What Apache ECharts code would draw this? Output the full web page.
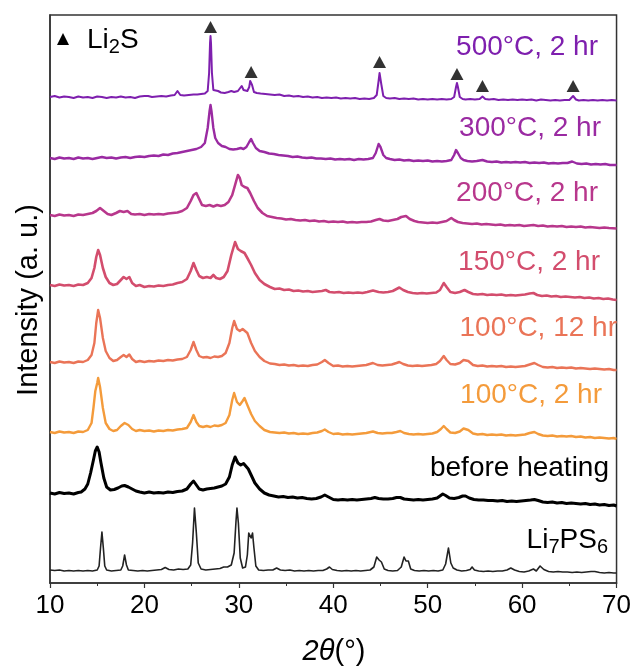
<!DOCTYPE html>
<html>
<head>
<meta charset="utf-8">
<script src="https://cdn.jsdelivr.net/npm/echarts@6/dist/echarts.min.js"></script>
<style>
  html, body { margin: 0; padding: 0; background: #fff; }
  #chart { width: 634px; height: 668px; }
</style>
</head>
<body>
<div id="chart"></div>
<script>
// 2θ (deg) vs stacked intensity (arbitrary units, offset per pattern)
const xTicks = [10, 20, 30, 40, 50, 60, 70];

const pattern500 = [
  [10,486],[10.5,487],[11,485.5],[11.5,486.5],[12,486],[12.5,485],[13,486.5],[13.5,485.5],[14,486],[14.5,485],
  [15,486.5],[15.5,486],[16,485],[16.5,486],[17,485.5],[17.5,486.5],[18,485.5],[18.5,486],[19,485],[19.5,486.5],
  [20,487],[20.2,489],[20.4,487],[20.8,486],[21.3,486.5],[21.8,487],[22.3,486.5],[22.8,487.5],[23.2,488],[23.5,492],
  [23.8,488],[24.2,487.5],[24.7,488],[25.2,488.5],[25.4,490],[25.6,488.5],[26,489],[26.4,489.5],[26.7,492],[26.85,510],
  [26.95,540],[27,547],[27.05,540],[27.15,510],[27.3,493],[27.5,491],[27.8,492],[28.1,490.5],[28.5,490],[28.9,491],
  [29.2,492],[29.5,491],[29.9,492],[30.1,494],[30.3,497],[30.5,493],[30.7,491],[30.9,492],[31.1,496],[31.2,502],
  [31.3,503],[31.4,498],[31.6,491],[31.9,490],[32.3,489.5],[32.8,489],[33.3,488.5],[33.8,488],[34.3,488.5],[34.8,487],
  [35.3,487.5],[35.8,486.5],[36.3,487],[36.8,486],[37.3,486.5],[37.8,485.5],[38.3,486],[38.8,485],[39.3,485.5],[39.8,485],
  [40.3,485.5],[40.8,484.5],[41.3,485],[41.8,484.5],[42.3,485],[42.8,484],[43.3,484.5],[43.8,484],[44.3,485],[44.6,488],
  [44.8,502],[44.9,510],[45,508],[45.1,498],[45.3,487],[45.6,485],[46,484.5],[46.5,485],[47,484],[47.5,484.5],
  [48,484],[48.5,484.5],[49,483.5],[49.5,484],[50,483.5],[50.5,484],[51,483.5],[51.5,484],[52,483.5],[52.5,484],
  [52.8,486],[53,496],[53.1,500],[53.2,496],[53.4,486],[53.7,484],[54,483.5],[54.5,484],[55,483.5],[55.5,484],
  [55.8,486.5],[56.1,484],[56.5,483.5],[57,484],[57.5,483],[58,483.5],[58.5,483],[59,483.5],[59.5,483],[60,483.5],
  [60.5,483],[61,483.5],[61.5,482.5],[62,483.5],[62.5,483],[63,482.5],[63.5,483],[64,482.5],[64.5,483],[65,483],
  [65.4,487],[65.7,483.5],[66,482.5],[66.5,483],[67,482.5],[67.5,483],[68,482.5],[68.5,483],[69,482.5],[69.5,483],[70,482.5]
];

const pattern300 = [
  [10,425],[10.5,424],[11,425.5],[11.5,424.5],[12,425],[12.5,424],[13,425.5],[13.5,424.5],[14,425],[14.5,424],
  [15,425],[15.5,426],[16,425],[16.5,425.5],[17,424.5],[17.5,425.5],[18,426],[18.5,425],[19,426],[19.5,426.5],
  [20,426],[20.5,427],[21,427.5],[21.5,427],[22,428.5],[22.5,428],[23,429.5],[23.5,430],[24,431],[24.5,432],
  [25,433],[25.5,434],[26,436],[26.4,440],[26.7,455],[26.9,472],[27,478],[27.1,472],[27.3,455],[27.5,445],
  [27.8,440],[28.2,437],[28.6,436],[29,434],[29.4,433.5],[29.8,434],[30.2,435],[30.5,434],[30.8,436],[31.1,441],
  [31.3,444],[31.5,440],[31.8,435],[32.2,432],[32.7,431],[33.2,429.5],[33.7,429],[34.2,428],[34.7,427.5],[35.2,427],
  [35.7,426],[36.2,426.5],[36.7,425.5],[37.2,425],[37.7,425.5],[38.2,424.5],[38.7,424.5],[39.2,424],[39.7,424.5],[40.2,423.5],
  [40.7,424],[41.2,423.5],[41.7,424],[42.2,423],[42.7,424],[43.2,423.5],[43.7,424],[44.2,425],[44.5,430],[44.8,439],
  [45,436],[45.3,428],[45.6,425],[46,424],[46.5,423],[47,423.5],[47.5,422.5],[48,423],[48.5,422],[49,422.5],
  [49.5,422],[50,422.5],[50.5,421.5],[51,422],[51.5,421.5],[52,422],[52.5,423],[52.8,428],[53,433],[53.2,430],
  [53.5,425],[53.8,423],[54.2,422],[54.7,421.5],[55.2,422],[55.8,423],[56.3,421.5],[56.8,421],[57.3,421.5],[57.8,420.5],
  [58.3,421],[58.8,420.5],[59.3,421],[59.8,420.5],[60.3,421],[60.8,420],[61.3,420.5],[61.8,420],[62.3,420.5],[62.8,419.5],
  [63.3,420],[63.8,419.5],[64.3,420],[64.8,420],[65.3,421.5],[65.8,419.5],[66.3,419],[66.8,419.5],[67.3,418.5],[67.8,419],
  [68.3,418.5],[68.8,419],[69.3,418],[70,418]
];

const pattern200 = [
  [10,368],[10.5,367],[11,368.5],[11.5,367.5],[12,368],[12.5,367],[13,368.5],[13.5,368],[14,369],[14.5,370],
  [14.9,372],[15.3,375],[15.7,372],[16.1,369],[16.5,368],[17,370],[17.4,372],[17.8,371],[18.2,372],[18.6,369],
  [19,368.5],[19.5,369],[20,368],[20.5,369],[21,368.5],[21.5,369],[22,368.5],[22.5,369.5],[23,370],[23.5,370.5],
  [24,372],[24.5,375],[24.9,382],[25.2,388],[25.5,390],[25.8,384],[26.1,378],[26.5,377],[26.9,378],[27.3,376.5],
  [27.7,378],[28.1,377],[28.5,378],[28.9,381],[29.3,388],[29.6,398],[29.9,408],[30.1,405],[30.3,398],[30.6,396],
  [30.9,395],[31.2,390],[31.6,382],[32,375],[32.5,370],[33,367],[33.5,366],[34,365],[34.5,364.5],[35,363.5],
  [35.5,364],[36,363],[36.5,362.5],[37,363],[37.5,362],[38,362.5],[38.5,361.5],[39,362],[39.5,361],[40,361.5],
  [40.5,361],[41,361.5],[41.5,360.5],[42,361],[42.5,360.5],[43,361],[43.5,361],[44,361.5],[44.5,363],[44.9,364],
  [45.3,362.5],[45.8,362],[46.3,363],[46.8,364],[47.2,366],[47.7,367],[48.1,364],[48.6,362],[49,361],[49.5,360.5],
  [50,360],[50.5,360.5],[51,360],[51.5,361],[52,362],[52.5,365],[52.8,363],[53.2,361],[53.7,360],[54.2,359.5],
  [54.7,359],[55.2,359.5],[55.7,358.5],[56.2,359],[56.7,358.5],[57.2,358],[57.7,358.5],[58.2,357.5],[58.7,358],[59.2,357.5],
  [59.7,358],[60.2,357],[60.7,357.5],[61.2,358],[61.7,357],[62.2,357.5],[62.7,356.5],[63.2,357],[63.7,356.5],[64.2,357],
  [64.7,356],[65.2,356.5],[65.7,356],[66.2,356.5],[66.7,355.5],[67.2,356],[67.7,355.5],[68.2,355],[68.7,355.5],[69.2,355],[70,354.5]
];

const pattern150 = [
  [10,298],[10.5,297],[11,298.5],[11.5,297.5],[12,298],[12.5,297],[13,298.5],[13.5,298],[14,300],[14.4,305],
  [14.7,315],[14.9,326],[15.1,333],[15.3,328],[15.6,315],[15.9,306],[16.3,300],[16.7,298],[17.1,299],[17.5,303],
  [17.8,306],[18.1,304],[18.4,306],[18.7,300],[19.1,297],[19.5,298],[20,296],[20.5,297],[21,296.5],[21.5,297.5],
  [22,297],[22.5,298],[23,298.5],[23.5,300],[24,301],[24.5,304],[24.9,312],[25.2,320],[25.5,313],[25.8,307],
  [26.2,305],[26.6,306],[27,305],[27.3,308],[27.6,305],[28,304],[28.4,306],[28.8,312],[29.2,328],[29.6,341],
  [29.9,334],[30.2,332],[30.6,330],[30.9,325],[31.3,318],[31.7,310],[32.2,303],[32.7,299],[33.3,296],[33.8,294],
  [34.3,294.5],[34.8,293],[35.3,293.5],[35.8,292],[36.3,292.5],[36.8,291.5],[37.3,292],[37.8,291],[38.3,291.5],[38.8,292],
  [39.2,293],[39.6,291],[40.1,290.5],[40.6,291],[41.1,290],[41.6,290.5],[42.1,290],[42.6,290.5],[43.1,290],[43.6,291],
  [44.2,292.5],[44.8,291],[45.3,290.5],[45.8,291],[46.3,292],[46.7,294],[47,295.5],[47.4,293],[47.9,291],[48.4,290],
  [48.9,289.5],[49.4,290],[49.9,289.5],[50.4,290],[50.9,290.5],[51.3,293],[51.7,300],[52,296],[52.4,291],[52.9,290],
  [53.4,291],[53.9,293],[54.3,291],[54.8,289],[55.3,288.5],[55.8,289],[56.3,288],[56.8,288.5],[57.3,288],[57.8,288.5],
  [58.3,287.5],[58.8,288],[59.3,287.5],[59.8,288],[60.3,288.5],[60.8,289.5],[61.2,290],[61.6,288],[62.1,287],[62.6,287.5],
  [63.1,286.5],[63.6,287],[64.1,286],[64.6,286.5],[65.1,286],[65.6,285.5],[66.1,286],[66.6,285],[67.1,285.5],[67.6,284.5],
  [68.1,285],[68.6,284],[69.1,284.5],[69.6,283.5],[70,283]
];

const pattern100long = [
  [10,221],[10.5,220],[11,221.5],[11.5,220.5],[12,221],[12.5,220],[13,221.5],[13.5,221],[14,223],[14.4,228],
  [14.7,240],[14.9,260],[15.1,273],[15.3,265],[15.6,245],[15.9,232],[16.3,225],[16.7,222],[17.1,223],[17.5,226],
  [17.8,228],[18.1,226],[18.4,228.5],[18.7,224],[19.1,221],[19.5,222],[20,221],[20.5,222],[21,221.5],[21.5,222.5],
  [22,222],[22.5,223],[23,222.5],[23.5,223.5],[24,224],[24.5,226],[24.9,233],[25.2,241],[25.5,233],[25.8,227],
  [26.2,225.5],[26.6,226],[27,225],[27.4,226.5],[27.8,226],[28.2,227],[28.6,230],[29,240],[29.3,255],[29.5,262],
  [29.8,254],[30.1,252],[30.4,254],[30.6,256],[30.9,250],[31.3,240],[31.7,232],[32.2,226],[32.7,222],[33.3,219.5],
  [33.8,219],[34.3,218],[34.8,218.5],[35.3,217.5],[35.8,218],[36.3,217],[36.8,217.5],[37.3,217],[37.8,218],[38.3,218.5],
  [38.8,221],[39.1,223],[39.5,220],[40,217],[40.5,217.5],[41,216.5],[41.5,217],[42,216.5],[42.5,217],[43,217.5],
  [43.5,218],[44.2,220],[44.7,218],[45.2,217.5],[45.7,218],[46.2,218.5],[46.7,220],[47,221],[47.4,219],[47.9,217.5],
  [48.4,217],[48.9,217.5],[49.4,217],[49.9,217.5],[50.4,218],[50.9,219],[51.3,222],[51.7,227],[52,223],[52.4,219],
  [52.9,218.5],[53.4,220],[53.8,223],[54,225],[54.3,222],[54.8,218],[55.3,217],[55.8,217.5],[56.3,216.5],[56.8,217],
  [57.3,216.5],[57.8,217],[58.3,216],[58.8,216.5],[59.3,216],[59.8,216.5],[60.3,217],[60.8,218.5],[61.3,220],[61.7,218],
  [62.2,216],[62.7,215.5],[63.2,216],[63.7,215],[64.2,215.5],[64.7,215],[65.2,215.5],[65.7,214.5],[66.2,215],[66.7,214.5],
  [67.2,214],[67.7,214.5],[68.2,214],[68.7,213.5],[69.2,214],[69.7,213],[70,213]
];

const pattern100short = [
  [10,151],[10.5,150],[11,151.5],[11.5,150.5],[12,151],[12.5,150],[13,151.5],[13.5,151],[14,153],[14.4,160],
  [14.6,175],[14.8,192],[15,200],[15.1,205],[15.3,196],[15.6,175],[15.9,160],[16.3,154],[16.7,152],[17.1,153],
  [17.5,157],[17.9,160],[18.3,158],[18.7,154],[19.1,152],[19.5,153],[20,152],[20.5,152.5],[21,151.5],[21.5,152.5],
  [22,152],[22.5,153],[23,152.5],[23.5,153.5],[24,154],[24.5,155],[24.9,161],[25.2,168],[25.5,161],[25.8,157],
  [26.2,156],[26.6,157],[27,156],[27.4,157.5],[27.8,157],[28.2,158],[28.6,160],[29,168],[29.3,183],[29.5,190],
  [29.8,181],[30.1,178],[30.4,182],[30.6,185],[30.9,178],[31.3,169],[31.7,162],[32.2,157],[32.7,153],[33.3,151],
  [33.8,150.5],[34.3,150],[34.8,150.5],[35.3,149.5],[35.8,150],[36.3,149],[36.8,149.5],[37.3,149],[37.8,150],[38.3,150.5],
  [38.8,152],[39.1,153.5],[39.5,151],[40,149],[40.5,149.5],[41,148.5],[41.5,149],[42,148.5],[42.5,149],[43,149.5],
  [43.5,150],[44.2,151.5],[44.7,150],[45.2,149.5],[45.7,150],[46.2,150],[46.7,151],[47.1,152],[47.5,150],[48,149],
  [48.5,148.5],[49,149],[49.5,148.5],[50,149],[50.5,149.5],[51,151],[51.4,154],[51.7,157],[52,154],[52.4,150.5],
  [52.9,150],[53.4,151.5],[53.8,154.5],[54,156],[54.3,153],[54.8,149.5],[55.3,148.5],[55.8,149],[56.3,148],[56.8,148.5],
  [57.3,148],[57.8,148.5],[58.3,147.5],[58.8,148],[59.3,147.5],[59.8,148],[60.3,148.5],[60.8,150],[61.3,151],[61.7,149],
  [62.2,147.5],[62.7,147],[63.2,147.5],[63.7,146.5],[64.2,147],[64.7,146.5],[65.2,147],[65.7,146],[66.2,146.5],[66.7,145.5],
  [67.2,146],[67.7,145],[68.2,145.5],[68.7,145],[69.2,144.5],[69.7,145],[70,144]
];

const patternBefore = [
  [10,90],[10.5,89],[11,90.5],[11.5,89.5],[12,90],[12.5,89],[13,90.5],[13.3,91],[13.7,94],[14,99],
  [14.3,110],[14.6,123],[14.8,132],[15,136],[15.2,131],[15.4,120],[15.7,105],[16,96],[16.4,93],[16.8,93.5],
  [17.2,95],[17.6,97],[17.9,97.5],[18.3,96],[18.7,94],[19.1,92],[19.5,91],[20,90],[20.5,91],[21,90],
  [21.5,90.5],[22,90],[22.5,91],[23,90.5],[23.5,91.5],[24,92],[24.5,94],[24.9,99],[25.2,102],[25.5,98],
  [25.8,94],[26.2,93],[26.6,94],[27,94.5],[27.4,95],[27.8,96],[28.2,97],[28.6,99],[29,106],[29.3,118],
  [29.6,126],[29.9,120],[30.2,118],[30.5,119.5],[30.7,119],[31,114],[31.3,108],[31.7,100],[32.2,94],[32.7,90],
  [33.2,88],[33.7,87],[34.2,86],[34.7,86.5],[35.2,85.5],[35.7,86],[36.2,85],[36.7,85.5],[37.2,84.5],[37.7,84],
  [38.2,84.5],[38.7,86],[39.1,88],[39.5,86],[40,83.5],[40.5,83],[41,83.5],[41.5,83],[42,83.5],[42.5,83],
  [43,83.5],[43.5,84],[44,84.5],[44.4,85.5],[44.8,84.5],[45.3,84],[45.8,84],[46.3,84.5],[46.7,85.5],[47.1,85.5],
  [47.5,84],[48,83.5],[48.5,83],[49,83.5],[49.5,83],[50,83.5],[50.5,84],[51,85],[51.3,87],[51.6,89],
  [51.9,87.5],[52.3,85],[52.8,84.5],[53.3,85.5],[53.7,87],[54,87],[54.4,85],[54.9,83.5],[55.4,83],[55.9,83],
  [56.4,82.5],[56.9,82.5],[57.4,82],[57.9,82.5],[58.4,81.5],[58.9,82],[59.4,81.5],[59.9,82],[60.4,82.5],[60.9,83],
  [61.3,83.5],[61.7,82.5],[62.2,81],[62.7,80.5],[63.2,81],[63.7,80],[64.2,80.5],[64.7,79.5],[65.2,80],[65.7,79.5],
  [66.2,79],[66.7,79.5],[67.2,78.5],[67.7,79],[68.2,78],[68.7,78.5],[69.2,77.5],[69.7,78],[70,77]
];

const patternLi7PS6 = [
  [10,13],[10.5,12.5],[11,13],[11.5,12],[12,12.5],[12.5,12],[13,12.5],[13.5,12],[14,12.5],[14.5,12],
  [15,13],[15.2,17],[15.35,35],[15.5,51],[15.65,35],[15.8,17],[16,13],[16.5,12],[17,12.5],[17.5,13],
  [17.7,17],[17.9,28],[18.1,18],[18.3,13],[18.8,12.5],[19.3,12],[19.8,12.5],[20.3,12],[20.8,12.5],[21.3,13],
  [21.8,13.5],[22.2,15.5],[22.6,13.5],[23.1,13],[23.6,14],[24.1,13.5],[24.6,14],[24.9,18],[25.1,40],[25.3,75],
  [25.5,50],[25.7,20],[26,14],[26.5,13],[27,13.5],[27.5,14],[28,14.5],[28.4,16],[28.8,16],[29.2,18],
  [29.5,30],[29.7,62],[29.8,75],[29.95,60],[30.15,25],[30.4,15],[30.7,16],[30.9,28],[31.05,50],[31.15,52],
  [31.3,45],[31.45,50],[31.6,35],[31.8,17],[32.1,13],[32.6,12.5],[33.1,13],[33.6,13],[34,15],[34.4,13],
  [34.9,12.5],[35.4,13],[35.9,12],[36.4,12.5],[36.9,12],[37.4,12.5],[37.9,12],[38.4,12.5],[38.9,12.5],[39.3,14],
  [39.6,16],[39.9,13.5],[40.4,12.5],[40.9,12],[41.4,12.5],[41.9,12],[42.4,12.5],[42.9,12],[43.4,12.5],[43.9,13],
  [44.3,16],[44.6,26],[44.85,23],[45.1,21],[45.4,14],[45.8,12.5],[46.3,12],[46.8,12.5],[47.2,16],[47.5,26],
  [47.7,22],[47.95,22],[48.2,14],[48.6,12.5],[49.1,12],[49.6,12.5],[50.1,12],[50.6,12.5],[51.1,12],[51.6,13],
  [51.9,19],[52.2,35],[52.45,20],[52.7,15],[52.85,17],[53.1,13],[53.6,12],[54.1,12.5],[54.5,13.5],[54.7,16],
  [54.95,13],[55.4,12],[55.9,11.5],[56.4,12],[56.9,11.5],[57.4,12],[57.9,12],[58.4,13],[58.8,15],[59.2,13],
  [59.7,11.5],[60.2,11],[60.7,12],[61.2,14],[61.5,12],[61.9,17],[62.3,13.5],[62.8,11.5],[63.3,11],[63.8,11.5],
  [64.3,11],[64.8,11],[65.3,10.5],[65.8,11],[66.3,10.5],[66.8,11],[67.3,11.5],[67.7,11.5],[68.2,10.5],[68.7,10],
  [69.2,10.5],[69.7,10],[70,10]
];

// Li2S reflections marked with triangles (2θ, marker height on the stacked scale)
const li2sMarks = [[27.0, 556], [31.3, 511], [44.9, 521], [53.1, 509], [55.8, 497], [65.4, 497]];

const seriesNames = ['500°C, 2 hr', '300°C, 2 hr', '200°C, 2 hr', '150°C, 2 hr',
  '100°C, 12 hr', '100°C, 2 hr', 'before heating', 'Li7PS6'];
const seriesColors = ['#7e1fae', '#9a2aa2', '#b8378c', '#d34d6d', '#ea7457', '#f49b3b', '#000000', '#222222'];
const seriesData = [pattern500, pattern300, pattern200, pattern150,
  pattern100long, pattern100short, patternBefore, patternLi7PS6];
const seriesWidths = [2, 2.4, 2.6, 2.6, 2.4, 2.4, 3, 1.6];

// label anchor: right edge x, centre y (px)
const labelPos = [[598, 47], [601, 128], [598, 193], [600, 262], [617, 328], [602, 395], [609, 468], [608, 540]];

const FONT = '"Liberation Sans", Arial, Helvetica, sans-serif';

const chart = echarts.init(document.getElementById('chart'), null, { renderer: 'canvas' });

const series = seriesData.map((d, i) => ({
  name: seriesNames[i],
  type: 'line',
  data: d,
  showSymbol: false,
  symbol: 'none',
  lineStyle: { color: seriesColors[i], width: seriesWidths[i], join: 'round' },
  z: 10 - i,
  animation: false
}));

series.push({
  name: 'Li2S',
  type: 'scatter',
  data: li2sMarks,
  symbol: 'triangle',
  symbolSize: [13, 12],
  itemStyle: { color: '#000' },
  z: 20,
  animation: false
});

const labelGraphics = seriesNames.map((name, i) => {
  const isLi = name === 'Li7PS6';
  return {
    type: 'text',
    x: labelPos[i][0],
    y: labelPos[i][1],
    z: 100,
    style: {
      text: isLi ? '{a|Li}{s|7}{a|PS}{s|6}' : name,
      fill: seriesColors[i],
      font: '28px ' + FONT,
      align: 'right',
      verticalAlign: 'middle',
      rich: isLi ? {
        a: { fontSize: 28, fontFamily: FONT, fill: '#000' },
        s: { fontSize: 20, fontFamily: FONT, fill: '#000', padding: [14, 0, 0, 0] }
      } : undefined
    }
  };
});

const option = {
  backgroundColor: '#fff',
  animation: false,
  grid: {
    left: 50, right: 17, top: 15, bottom: 85,
    show: true, borderColor: '#333', borderWidth: 1.5, backgroundColor: 'transparent'
  },
  xAxis: {
    type: 'value',
    min: 10, max: 70, interval: 10,
    axisLine: { show: true, lineStyle: { color: '#333', width: 1.5 } },
    axisTick: { show: true, inside: false, length: 5, lineStyle: { color: '#333', width: 1.2 } },
    minorTick: { show: true, splitNumber: 2, length: 3, lineStyle: { color: '#333', width: 1 } },
    splitLine: { show: false },
    axisLabel: {
      color: '#000', fontSize: 26, fontFamily: FONT, margin: 10,
      formatter: v => (xTicks.indexOf(v) >= 0 ? String(v) : '')
    }
  },
  yAxis: {
    type: 'value',
    min: 0, max: 568,
    axisLine: { show: true, lineStyle: { color: '#333', width: 1.5 } },
    axisTick: { show: false },
    axisLabel: { show: false },
    splitLine: { show: false }
  },
  graphic: [
    {
      type: 'text', x: 29, y: 300, rotation: Math.PI / 2, z: 100,
      style: {
        text: 'Intensity (a. u.)', fill: '#000', font: '29px ' + FONT,
        align: 'center', verticalAlign: 'middle'
      }
    },
    {
      type: 'text', x: 334, y: 652, z: 100,
      style: {
        text: '{i|2θ}{n|(°)}', align: 'center', verticalAlign: 'middle',
        rich: {
          i: { fontSize: 29, fontStyle: 'italic', fontFamily: FONT, fill: '#000' },
          n: { fontSize: 29, fontFamily: FONT, fill: '#000' }
        }
      }
    },
    {
      type: 'text', x: 87, y: 40, z: 100,
      style: {
        text: '{a|Li}{s|2}{a|S}', align: 'left', verticalAlign: 'middle',
        rich: {
          a: { fontSize: 28, fontFamily: FONT, fill: '#000' },
          s: { fontSize: 20, fontFamily: FONT, fill: '#000', padding: [14, 0, 0, 0] }
        }
      }
    },
    {
      type: 'polygon', z: 100,
      shape: { points: [[63, 33], [57, 45], [69, 45]] },
      style: { fill: '#000' }
    }
  ].concat(labelGraphics),
  series: series
};

chart.setOption(option);
</script>
</body>
</html>
